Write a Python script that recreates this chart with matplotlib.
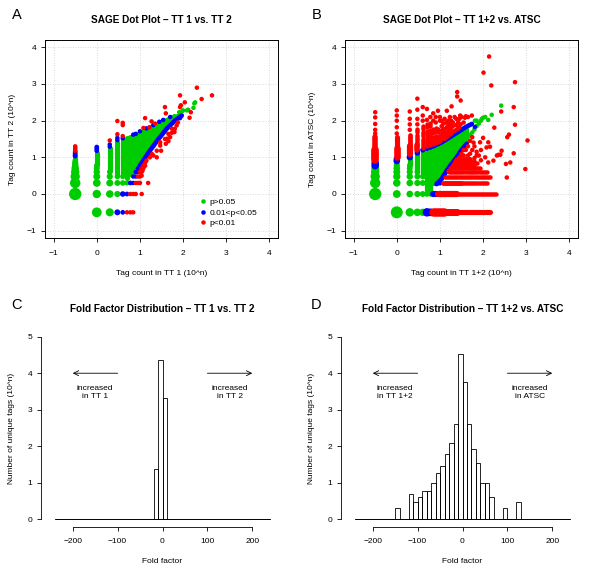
import numpy as np
import matplotlib
matplotlib.use("Agg")
import matplotlib.pyplot as plt
from matplotlib.lines import Line2D

plt.rcParams['font.family'] = ['Liberation Sans', 'DejaVu Sans']

GREEN = '#00cd00'
BLUE = '#0000ff'
RED = '#ff0000'

# ---------------- Panel A : TT 1 vs TT 2 (log10 tag counts, 0 counts at -0.5) ----------------
# big / single dots: (x, y, number of tags at that spot)
a_green_pts = [(-0.5, 0, 150), (-0.5, 0.301, 45), (-0.5, 0.477, 22), (-0.5, 0.602, 12), (-0.5, 0.699, 7),
               (-0.5, 0.778, 4), (-0.5, 0.845, 3), (-0.5, 0.903, 2),
               (0, -0.5, 30), (0, 0, 12), (0, 0.301, 8), (0, 0.477, 5), (0, 0.602, 3.5), (0, 0.699, 2.5),
               (0, 0.778, 2), (0.301, -0.5, 10), (0.301, 0, 7), (0.301, 0.301, 5), (0.301, 0.477, 3),
               (0.301, 0.602, 2), (0.477, 0, 3), (0.477, 0.301, 2.5), (0.477, 0.477, 2),
               (0.602, 0.301, 2), (0.602, 0.477, 1.7), (0.699, 0.301, 1.5), (0.699, 0.477, 1.5),
               (1.91, 2.23, 1), (1.97, 2.25, 1), (2.0, 2.28, 1), (2.09, 2.28, 1), (2.12, 2.3, 1),
               (2.24, 2.35, 1), (2.28, 2.5, 1), (2.26, 2.47, 1)]
# dense green columns: x, lowest y, highest y
a_gcol_x = [-0.5, 0, 0.301, 0.477, 0.602, 0.699, 0.778, 0.845, 0.903, 0.954, 1.0, 1.05, 1.1, 1.15, 1.2,
            1.25, 1.3, 1.35, 1.4, 1.45, 1.5, 1.55, 1.6, 1.65, 1.7, 1.75, 1.8, 1.85, 1.9]
a_gcol_lo = [0.85, 0.8, 0.62, 0.55, 0.55, 0.45, 0.55, 0.6, 0.67, 0.74, 0.82, 0.92, 1.0, 1.09, 1.18,
             1.27, 1.35, 1.43, 1.51, 1.59, 1.66, 1.73, 1.81, 1.88, 1.94, 2.0, 2.05, 2.1, 2.13]
a_gcol_hi = [0.98, 1.13, 1.25, 1.42, 1.47, 1.52, 1.55, 1.58, 1.61, 1.64, 1.67, 1.7, 1.73, 1.76, 1.79,
             1.82, 1.85, 1.88, 1.91, 1.94, 1.97, 2.0, 2.03, 2.05, 2.08, 2.1, 2.12, 2.14, 2.16]
a_blue_pts = [(-0.5, 1.04, 1.5), (-0.5, 1.1, 1.3), (-0.5, 1.15, 1.2), (0, 1.18, 1.2), (0, 1.23, 1.2),
              (0, 1.28, 1.2), (0.301, 1.29, 1), (0.301, 1.35, 1), (0.477, 1.47, 1), (0.477, 1.53, 1),
              (0.602, 1.52, 1), (0.477, -0.5, 2.5), (0.602, -0.5, 1.2), (0.602, 0, 2), (0.699, 0, 1.2),
              (0.778, 0.301, 1.2), (0.845, 0.301, 1), (0.845, 0.477, 1), (0.903, 0.477, 1),
              (0.903, 0.602, 1), (0.954, 0.602, 1), (0.954, 0.699, 1), (1.0, 0.778, 1),
              (0.845, 1.62, 1), (0.903, 1.64, 1), (1.0, 1.71, 1), (1.15, 1.79, 1), (1.31, 1.88, 1),
              (1.45, 1.97, 1), (1.54, 2.02, 1), (1.7, 2.1, 1), (1.93, 2.07, 1)]
a_blue_edge_x = [1.0, 1.1, 1.23, 1.43, 1.62, 1.81, 1.97]
a_blue_edge_y = [0.77, 0.95, 1.18, 1.5, 1.78, 2.0, 2.14]
a_red_pts = [(-0.5, 1.18), (-0.5, 1.22), (-0.5, 1.26), (-0.5, 1.3),
             (0.301, 1.46), (0.477, 1.63), (0.477, 1.99), (0.602, 1.58), (0.602, 1.88), (0.602, 1.94),
             (1.08, 1.8), (1.12, 2.07), (1.22, 1.82), (1.27, 1.98), (1.35, 1.92), (1.58, 2.37), (1.6, 2.2),
             (1.93, 2.69), (1.95, 2.42), (2.04, 2.5), (2.32, 2.9), (2.43, 2.59), (2.67, 2.69), (2.18, 2.23),
             (2.15, 2.08), (1.93, 2.37),
             (1.04, 0.5), (1.06, 0.64), (1.12, 0.77), (1.12, 0.85), (1.15, 0.91), (1.23, 1.0), (1.31, 1.05),
             (1.39, 1.0), (1.28, 1.09), (1.39, 1.18), (1.47, 1.32), (1.49, 1.18), (1.47, 1.41), (1.58, 1.5),
             (1.6, 1.37), (1.63, 1.51), (1.66, 1.64), (1.66, 1.44), (1.7, 1.55), (1.74, 1.67), (1.74, 1.78),
             (1.8, 1.69), (1.81, 1.78), (1.85, 1.87), (1.88, 1.95),
             (0.699, -0.5), (0.778, -0.5), (0.845, -0.5), (0.778, 0), (0.845, 0), (0.903, 0), (1.041, 0),
             (0.903, 0.301), (0.954, 0.301), (1.0, 0.301), (1.19, 0.301), (0.954, 0.477), (1.0, 0.477),
             (1.0, 0.602), (1.041, 0.602), (1.041, 0.699), (1.079, 0.699), (1.079, 0.778)]

# ---------------- Panel B : TT 1+2 vs ATSC ----------------
b_green_pts = [(-0.5, 0, 150), (-0.5, 0.301, 43), (-0.5, 0.477, 23), (-0.5, 0.602, 13), (-0.5, 0.699, 8.5),
               (0, -0.5, 120), (0, 0, 8.5), (0, 0.301, 7), (0, 0.477, 6), (0, 0.602, 5), (0, 0.699, 4),
               (0, 0.778, 3), (0, 0.845, 2.5),
               (0.301, -0.5, 13), (0.301, 0, 4), (0.301, 0.301, 4), (0.301, 0.477, 3.5), (0.301, 0.602, 3),
               (0.301, 0.699, 2.5), (0.301, 0.778, 2),
               (0.477, -0.5, 7), (0.477, 0, 3), (0.477, 0.301, 3), (0.477, 0.477, 2.5), (0.477, 0.602, 2),
               (0.602, -0.5, 6), (0.602, 0, 2.5), (0.602, 0.301, 2.5), (0.602, 0.477, 2),
               (0.699, 0, 2), (0.699, 0.301, 2), (0.699, 0.477, 1.5), (0.778, 0, 1.8), (0.778, 0.301, 1.8),
               (0.845, 0.301, 1.5),
               (1.55, 1.42, 1), (1.6, 1.5, 1), (1.65, 1.56, 1), (1.7, 1.62, 1), (1.75, 1.68, 1), (1.8, 1.76, 1),
               (1.85, 1.85, 1), (1.9, 1.92, 1), (1.95, 2.0, 1), (2.0, 2.08, 1), (2.05, 2.1, 1), (2.12, 2.02, 1),
               (2.2, 2.16, 1), (2.42, 2.41, 1), (1.97, 2.05, 1), (1.85, 2.0, 1), (1.81, 2.0, 1)]
b_gcol_x = [0.301, 0.477, 0.602, 0.699, 0.778, 0.845, 0.903, 0.954, 1.0, 1.041, 1.079, 1.114, 1.15, 1.2,
            1.25, 1.3, 1.35, 1.4, 1.45, 1.5, 1.55, 1.6]
b_gcol_lo = [0.78, 0.6, 0.5, 0.1, 0.1, 0.301, 0.301, 0.477, 0.477, 0.48, 0.55, 0.62, 0.68, 0.76,
             0.85, 0.93, 1.0, 1.08, 1.17, 1.26, 1.33, 1.4]
b_gcol_hi = [0.97, 1.08, 1.15, 1.2, 1.24, 1.27, 1.3, 1.33, 1.36, 1.38, 1.41, 1.43, 1.45, 1.48,
             1.51, 1.54, 1.57, 1.61, 1.65, 1.69, 1.73, 1.77]
b_blue_pts = [(-0.5, 0.778, 8), (-0.5, 0.845, 7), (0, 0.903, 4), (0, 0.954, 3), (0.301, 1.0, 3),
              (0.301, 1.05, 2), (0.477, 1.12, 2), (0.477, 1.17, 1.5), (0.602, 1.2, 1.5), (0.699, 1.24, 1.3),
              (0.778, 1.27, 1.2), (0.845, 1.3, 1.2), (0.903, 1.33, 1),
              (0.699, -0.5, 13), (0.778, -0.5, 8), (0.845, 0, 3), (0.903, 0, 3),
              (0.954, 0.301, 1.5), (1.0, 0.301, 1.5), (1.81, 1.83, 1)]
b_blue_top_x = [0.954, 1.04, 1.23, 1.43, 1.62, 1.74]
b_blue_top_y = [1.36, 1.41, 1.55, 1.7, 1.84, 1.91]
b_blue_low_x = [0.92, 1.04, 1.16, 1.27, 1.39, 1.5, 1.62]
b_blue_low_y = [0.27, 0.41, 0.64, 0.82, 1.0, 1.2, 1.37]
# red vertical runs: x, y from, y to, tags
b_red_vruns = [(-0.5, 0.92, 1.2, 8), (-0.5, 1.2, 1.55, 2), (0, 1.0, 1.25, 4), (0, 1.25, 1.55, 1.5),
               (0.301, 1.1, 1.3, 3), (0.301, 1.3, 1.62, 1.2), (0.477, 1.2, 1.35, 2), (0.477, 1.35, 1.6, 1),
               (0.477, 1.68, 1.78, 1),
               (0.602, 1.25, 1.5, 1), (0.602, 1.58, 1.7, 1), (0.602, 1.78, 1.85, 1),
               (0.699, 1.3, 1.55, 1), (0.699, 1.63, 1.72, 1), (0.699, 1.82, 1.9, 1),
               (0.778, 1.33, 1.52, 1), (0.778, 1.62, 1.75, 1), (0.778, 1.85, 1.95, 1),
               (0.845, 1.36, 1.55, 1), (0.845, 1.66, 1.76, 1),
               (0.903, 1.38, 1.58, 1), (0.903, 1.7, 1.8, 1),
               (0.954, 1.41, 1.55, 1), (0.954, 1.68, 1.78, 1), (1.0, 1.45, 1.6, 1)]
# red horizontal runs: y, x from, x to, tags
b_red_hruns = [(-0.5, 0.845, 1.1, 13), (-0.5, 1.1, 1.4, 5), (-0.5, 1.4, 2.16, 1.5),
               (0, 0.954, 1.39, 3), (0, 1.39, 2.3, 1),
               (0.301, 1.08, 1.5, 1.3), (0.301, 1.55, 1.85, 1), (0.301, 1.9, 2.09, 1),
               (0.477, 1.12, 1.77, 1), (0.477, 1.81, 2.16, 1),
               (0.602, 1.2, 1.55, 1), (0.602, 1.6, 1.85, 1), (0.602, 1.9, 2.09, 1),
               (0.699, 1.25, 1.6, 1), (0.699, 1.65, 1.93, 1),
               (0.778, 1.3, 1.55, 1), (0.778, 1.6, 1.8, 1),
               (0.845, 1.33, 1.5, 1), (0.845, 1.55, 1.7, 1), (0.845, 1.75, 1.85, 1),
               (0.903, 1.36, 1.6, 1), (0.903, 1.7, 1.78, 1),
               (0.954, 1.38, 1.5, 1), (0.954, 1.55, 1.65, 1)]
b_red_pts = [(-0.5, 1.65), (-0.5, 1.75), (-0.5, 1.91), (-0.5, 2.09), (-0.5, 2.23), (0, 1.65), (0, 1.82),
             (0, 2.0), (0, 2.14), (0, 2.28), (0.301, 1.75), (0.301, 1.9), (0.301, 2.05), (0.301, 2.25),
             (0.477, 1.9), (0.477, 2.05), (0.477, 2.3), (0.477, 2.6), (0.602, 2.0), (0.602, 2.14),
             (0.602, 2.37), (0.699, 2.02), (0.699, 2.32), (0.778, 2.1), (0.845, 2.0), (0.845, 2.2),
             (0.903, 1.95), (0.903, 2.1), (0.954, 2.27), (1.0, 2.0), (1.0, 2.1),
             (1.04, 1.5), (1.04, 1.6), (1.04, 1.72), (1.04, 1.85), (1.04, 2.0), (1.08, 1.52), (1.08, 1.65),
             (1.08, 1.78), (1.08, 1.92), (1.11, 1.5), (1.11, 1.58), (1.11, 1.7), (1.11, 2.05), (1.15, 1.55),
             (1.15, 1.62), (1.15, 1.8), (1.15, 1.95), (1.16, 2.27), (1.18, 1.57), (1.18, 1.68), (1.18, 1.85),
             (1.2, 1.6), (1.2, 1.75), (1.2, 2.0), (1.23, 1.62), (1.23, 1.7), (1.23, 1.9), (1.23, 2.1),
             (1.26, 1.65), (1.26, 1.8), (1.26, 2.0), (1.27, 2.39), (1.3, 1.7), (1.3, 1.85), (1.3, 1.95),
             (1.34, 1.72), (1.34, 2.1), (1.38, 1.75), (1.38, 1.88), (1.38, 2.05), (1.4, 2.66), (1.4, 2.78),
             (1.42, 1.78), (1.42, 1.95), (1.45, 1.82), (1.45, 2.05), (1.47, 2.14), (1.48, 1.9), (1.48, 2.55),
             (1.5, 2.1), (1.55, 1.95), (1.58, 2.08), (1.6, 2.12), (1.65, 2.1), (1.74, 2.14),
             (2.14, 3.75), (2.01, 3.31), (2.19, 2.96), (2.74, 3.05), (2.71, 2.37), (2.42, 2.25), (2.74, 1.89),
             (3.03, 1.46), (2.98, 0.68), (2.63, 0.86), (2.53, 0.82), (2.55, 0.45), (2.71, 1.11), (2.6, 1.62),
             (2.56, 1.55), (2.26, 1.81), (2.43, 1.18), (2.32, 1.05), (2.24, 0.91), (2.4, 1.07), (2.08, 1.27),
             (2.0, 1.53), (1.93, 1.41), (2.12, 1.41), (2.12, 0.86), (2.16, 1.29), (2.36, 1.07),
             (1.2, 0.62), (1.25, 0.7), (1.3, 0.77), (1.35, 0.85), (1.45, 1.0), (1.5, 1.05), (1.5, 1.1),
             (1.55, 1.05), (1.55, 1.2), (1.6, 1.2), (1.6, 0.95), (1.65, 1.3), (1.65, 1.05), (1.7, 1.45),
             (1.7, 1.1), (1.7, 0.95), (1.75, 1.55), (1.75, 1.2), (1.78, 1.4), (1.8, 1.3), (1.8, 0.98),
             (1.85, 1.15), (1.85, 1.05), (1.9, 1.05), (1.95, 1.2), (1.95, 0.92), (2.05, 1.0)]

# ---------------- Histograms (fold factor, bins of 10 from -240 to 240) ----------------
bin_lo, bin_hi, bin_w = -240, 240, 10
c_heights = [0] * 22 + [1.37, 4.35, 3.32] + [0] * 23
d_heights = ([0] * 9 + [0.30, 0, 0, 0.69, 0.47, 0.60, 0.77, 0.77, 0.99, 1.26, 1.46, 1.79, 2.08, 2.61,
             4.54, 3.77, 2.61, 1.92, 1.53, 0.99, 0.99, 0.60, 0, 0, 0.30, 0, 0, 0.47] + [0] * 11)

FS = 6.0
W, H = 600, 578


def dia(n):
    # marker diameter in points from the number of tags at a spot
    return (4.5 + 3.6 * np.log10(np.asarray(n, dtype=float))) * 0.72


def fpos(l, t, r, b):
    return [l / W, 1 - b / H, (r - l) / W, (b - t) / H]


def ftext(x, y, s, **kw):
    fig.text(x / W, 1 - y / H, s, ha='center', va='center', **kw)


def dot_axes(ax):
    ax.set_xlim(-1.2, 4.2)
    ax.set_ylim(-1.2, 4.2)
    ax.set_xticks(range(-1, 5))
    ax.set_yticks(range(-1, 5))
    ax.grid(True, color='#cfcfcf', linestyle=(0, (1, 2)), linewidth=0.6)
    ax.set_axisbelow(True)
    for s in ax.spines.values():
        s.set_linewidth(0.7)
    ax.tick_params(direction='out', length=2.9, width=0.6, labelsize=FS, pad=3.5)
    ax.tick_params(axis='x', pad=5.5)


def scatter_group(ax, pts, color, z, default_n=1):
    x = [p[0] for p in pts]
    y = [p[1] for p in pts]
    n = [p[2] if len(p) > 2 else default_n for p in pts]
    ax.scatter(x, y, s=dia(n) ** 2, c=color, linewidths=0, zorder=z, clip_on=False)


def columns(ax, xs, lo, hi, color, z, n=1.2):
    for x, a, b in zip(xs, lo, hi):
        ax.plot([x, x], [a, b], color=color, lw=dia(n), solid_capstyle='round', zorder=z)


fig = plt.figure(figsize=(W / 100, H / 100), dpi=100)

# ---- A
axA = fig.add_axes(fpos(45, 40, 278, 238))
dot_axes(axA)
columns(axA, a_gcol_x, a_gcol_lo, a_gcol_hi, GREEN, 2, n=1.5)
scatter_group(axA, a_green_pts, GREEN, 2.5)
axA.plot(a_blue_edge_x, a_blue_edge_y, color=BLUE, lw=dia(1.1), solid_capstyle='round',
         solid_joinstyle='round', zorder=3)
scatter_group(axA, a_blue_pts, BLUE, 3.5)
scatter_group(axA, a_red_pts, RED, 4)
handles = [Line2D([], [], ls='none', marker='o', ms=dia(1), mew=0, color=c) for c in (GREEN, BLUE, RED)]
axA.legend(handles, ['p>0.05', '0.01<p<0.05', 'p<0.01'], loc='upper left', bbox_to_anchor=(0.666, 0.202),
           frameon=False, fontsize=FS, handlelength=0.6, handletextpad=0.5, labelspacing=0.35,
           borderpad=0, borderaxespad=0)

# ---- B
axB = fig.add_axes(fpos(345, 40, 578, 238))
dot_axes(axB)
columns(axB, b_gcol_x, b_gcol_lo, b_gcol_hi, GREEN, 2, n=1.6)
scatter_group(axB, b_green_pts, GREEN, 2.5)
axB.plot(b_blue_top_x, b_blue_top_y, color=BLUE, lw=dia(1.1), solid_capstyle='round', zorder=3)
axB.plot(b_blue_low_x, b_blue_low_y, color=BLUE, lw=dia(1.1), solid_capstyle='round', zorder=3)
scatter_group(axB, b_blue_pts, BLUE, 3.5)
for x, a, b, n in b_red_vruns:
    axB.plot([x, x], [a, b], color=RED, lw=dia(n), solid_capstyle='round', zorder=4)
for y, a, b, n in b_red_hruns:
    axB.plot([a, b], [y, y], color=RED, lw=dia(n), solid_capstyle='round', zorder=4)
scatter_group(axB, b_red_pts, RED, 4)

# ---- C / D histograms
edges = np.arange(bin_lo, bin_hi, bin_w)


def hist_axes(ax, heights, left_txt, right_txt):
    ax.set_xlim(-270, 270)
    ax.set_ylim(-0.2, 5.2)
    ax.bar(edges, heights, width=bin_w, align='edge', fill=False, edgecolor='black', linewidth=0.6)
    ax.plot([bin_lo, bin_hi], [0, 0], color='black', lw=0.6)
    for side in ('top', 'right'):
        ax.spines[side].set_visible(False)
    ax.spines['left'].set_bounds(0, 5)
    ax.spines['bottom'].set_bounds(-200, 200)
    for s in ('left', 'bottom'):
        ax.spines[s].set_linewidth(0.6)
    ax.set_xticks([-200, -100, 0, 100, 200])
    ax.set_yticks(range(0, 6))
    ax.tick_params(direction='out', length=2.9, width=0.6, labelsize=FS, pad=3.5)
    ax.tick_params(axis='x', pad=5.5)
    ax.annotate('', xy=(-200, 4), xytext=(-100, 4),
                arrowprops=dict(arrowstyle='->', lw=0.6, mutation_scale=9, shrinkA=0, shrinkB=0))
    ax.annotate('', xy=(200, 4), xytext=(100, 4),
                arrowprops=dict(arrowstyle='->', lw=0.6, mutation_scale=9, shrinkA=0, shrinkB=0))
    ax.text(-150, 3.47, left_txt, ha='center', va='center', fontsize=FS, linespacing=1.35)
    ax.text(150, 3.47, right_txt, ha='center', va='center', fontsize=FS, linespacing=1.35)


axC = fig.add_axes(fpos(41.3, 329.4, 283.7, 526.6))
hist_axes(axC, c_heights, 'increased\nin TT 1', 'increased\nin TT 2')
axD = fig.add_axes(fpos(341.3, 329.4, 583.7, 526.6))
hist_axes(axD, d_heights, 'increased\nin TT 1+2', 'increased\nin ATSC')

# ---- texts
TFS = 7.2
ftext(161.5, 20, 'SAGE Dot Plot \u2013 TT 1 vs. TT 2', fontsize=TFS, fontweight='bold')
ftext(461.5, 20, 'SAGE Dot Plot \u2013 TT 1+2 vs. ATSC', fontsize=TFS, fontweight='bold')
ftext(162.5, 309, 'Fold Factor Distribution \u2013 TT 1 vs. TT 2', fontsize=TFS, fontweight='bold')
ftext(462.5, 309, 'Fold Factor Distribution \u2013 TT 1+2 vs. ATSC', fontsize=TFS, fontweight='bold')

ftext(161.5, 273.3, 'Tag count in TT 1 (10^n)', fontsize=FS)
ftext(461.5, 273.3, 'Tag count in TT 1+2 (10^n)', fontsize=FS)
ftext(12.7, 139, 'Tag count in TT 2 (10^n)', fontsize=FS, rotation=90)
ftext(312.7, 139, 'Tag count in ATSC (10^n)', fontsize=FS, rotation=90)
ftext(162.5, 561.7, 'Fold factor', fontsize=FS)
ftext(462.5, 561.7, 'Fold factor', fontsize=FS)
ftext(11.7, 428, 'Number of unique tags (10^n)', fontsize=FS, rotation=90)
ftext(311.7, 428, 'Number of unique tags (10^n)', fontsize=FS, rotation=90)

for lab, x, y in (('A', 16.7, 15.3), ('B', 316.7, 15), ('C', 16.7, 304.7), ('D', 316, 305)):
    ftext(x, y, lab, fontsize=10.5)

fig.savefig('out.png', dpi=100)
